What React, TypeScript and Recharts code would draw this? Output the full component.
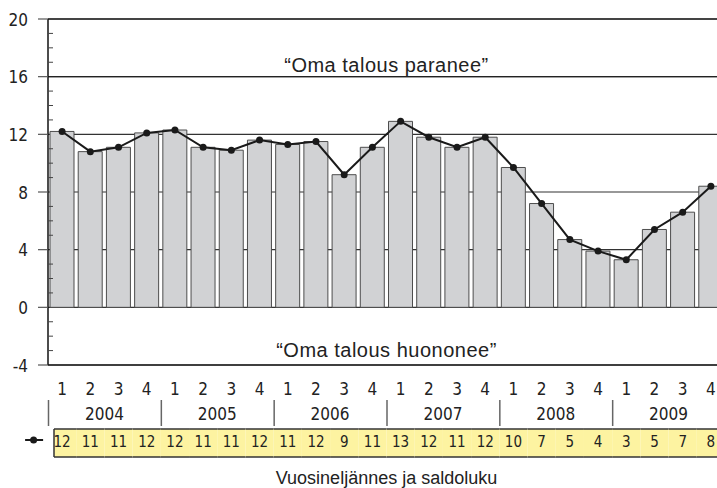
import React from 'react';
import { ComposedChart, Bar, Line, XAxis, YAxis, CartesianGrid, ReferenceLine } from 'recharts';

const quarters = ['1','2','3','4','1','2','3','4','1','2','3','4','1','2','3','4','1','2','3','4','1','2','3','4'];
const years = ['2004','2005','2006','2007','2008','2009'];
const balance = [12.2,10.8,11.1,12.1,12.3,11.1,10.9,11.6,11.3,11.5,9.2,11.1,12.9,11.8,11.1,11.8,9.7,7.2,4.7,3.9,3.3,5.4,6.6,8.4];
const tableValues = [12,11,11,12,12,11,11,12,11,12,9,11,13,12,11,12,10,7,5,4,3,5,7,8];
const yTicks = [-4,-3,-2,-1,0,1,2,3,4,5,6,7,8,9,10,11,12,13,14,15,16,17,18,19,20];
const gridValues = [-4,0,4,8,12,16,20];

const data = quarters.map((q, i) => ({
  key: i,
  quarter: q,
  year: years[Math.floor(i / 4)],
  value: balance[i],
  rounded: tableValues[i],
}));

const NARROW = '"Liberation Sans Narrow", "Arial Narrow", "DejaVu Sans Condensed", sans-serif';
const SANS = '"Liberation Sans", Arial, sans-serif';

const YTick = (props: any) => {
  const { x, y, payload } = props;
  const v = payload.value;
  if (v % 4 === 0) {
    return (
      <g>
        <line x1={x - 10} x2={x} y1={y} y2={y} stroke="#555" strokeWidth={1.2} />
        <text x={x - 20} y={y + 6.5} textAnchor="end" fontFamily={NARROW} fontSize={17} fill="#222">{v}</text>
      </g>
    );
  }
  return <line x1={x} x2={x + 5} y1={y} y2={y} stroke="#444" strokeWidth={1} />;
};

const XTick = (props: any) => {
  const { x, y, payload, width } = props;
  const i = payload.index ?? payload.value;
  const d = data[i];
  const bw = payload.offset && payload.offset > 0 ? payload.offset * 2 : width / data.length;
  const left = i === 0 ? x - bw / 2 + 6 : x - bw / 2;
  const right = x + bw / 2;
  const top = y + 64;
  const bottom = y + 92;
  return (
    <g>
      <text x={x} y={y + 30} textAnchor="middle" fontFamily={NARROW} fontSize={17} fill="#222">{d.quarter}</text>
      {i % 4 === 0 && (
        <g>
          <line x1={x - bw / 2 + 0.5} x2={x - bw / 2 + 0.5} y1={y + 35} y2={y + 61} stroke="#666" strokeWidth={1.5} />
          <text x={x + 1.5 * bw} y={y + 55} textAnchor="middle" fontFamily={NARROW} fontSize={17} fill="#222">{d.year}</text>
        </g>
      )}
      <rect x={left} y={top} width={right - left} height={bottom - top} fill="#fdf3a1" stroke="none" />
      <line x1={left} x2={right} y1={top} y2={top} stroke="#333" strokeWidth={1.5} />
      <line x1={left} x2={right} y1={bottom} y2={bottom} stroke="#333" strokeWidth={1.5} />
      {i === 0 && (
        <g>
          <line x1={left} x2={left} y1={top} y2={bottom} stroke="#333" strokeWidth={1.5} />
          <line x1={x - 37} x2={x - 19} y1={y + 75} y2={y + 75} stroke="#1a1a1a" strokeWidth={2} />
          <circle cx={x - 28.5} cy={y + 75} r={3.5} fill="#1a1a1a" />
        </g>
      )}
      <text x={x} y={y + 82} textAnchor="middle" fontFamily={NARROW} fontSize={15} fill="#222">{d.rounded}</text>
    </g>
  );
};

export default function App() {
  return (
    <div style={{ position: 'absolute', left: 0, top: 0, width: 717, height: 488, overflow: 'hidden', background: '#fff' }}>
      <ComposedChart
        width={725}
        height={488}
        data={data}
        margin={{ top: 19, right: 0, left: 0, bottom: 0 }}
        barCategoryGap={2}
      >
        <CartesianGrid vertical={false} horizontalValues={gridValues} stroke="#333" strokeWidth={1.2} />
        <XAxis
          dataKey="key"
          type="category"
          height={123}
          interval={0}
          tickLine={false}
          axisLine={false}
          tickSize={0}
          tickMargin={0}
          tick={<XTick />}
          label={{ value: 'Vuosineljännes ja saldoluku', position: 'insideBottom', offset: 4, fontFamily: SANS, fontSize: 18, fill: '#222' }}
        />
        <YAxis
          type="number"
          domain={[-4, 20]}
          ticks={yTicks}
          interval={0}
          width={48}
          tickLine={false}
          tickSize={0}
          tickMargin={0}
          axisLine={{ stroke: '#111', strokeWidth: 1.5 }}
          tick={<YTick />}
        />
        <ReferenceLine y={20} stroke="#444" strokeWidth={2.2} />
        <ReferenceLine y={-4} stroke="#222" strokeWidth={1.5} label={{ value: '“Oma talous huononee”', position: 'top', offset: 8, fontFamily: SANS, fontSize: 20, letterSpacing: 0.5, fill: '#222' }} />
        <ReferenceLine y={16} stroke="#222" strokeWidth={1.2} label={{ value: '“Oma talous paranee”', position: 'top', offset: 5, fontFamily: SANS, fontSize: 20, letterSpacing: 0.5, fill: '#222' }} />
        <Bar dataKey="value" fill="#d1d2d4" stroke="#4d4d4d" strokeWidth={1} isAnimationActive={false} />
        <Line dataKey="value" stroke="#1a1a1a" strokeWidth={2} dot={{ r: 3.5, fill: '#1a1a1a', stroke: 'none' }} isAnimationActive={false} />
      </ComposedChart>
    </div>
  );
}
